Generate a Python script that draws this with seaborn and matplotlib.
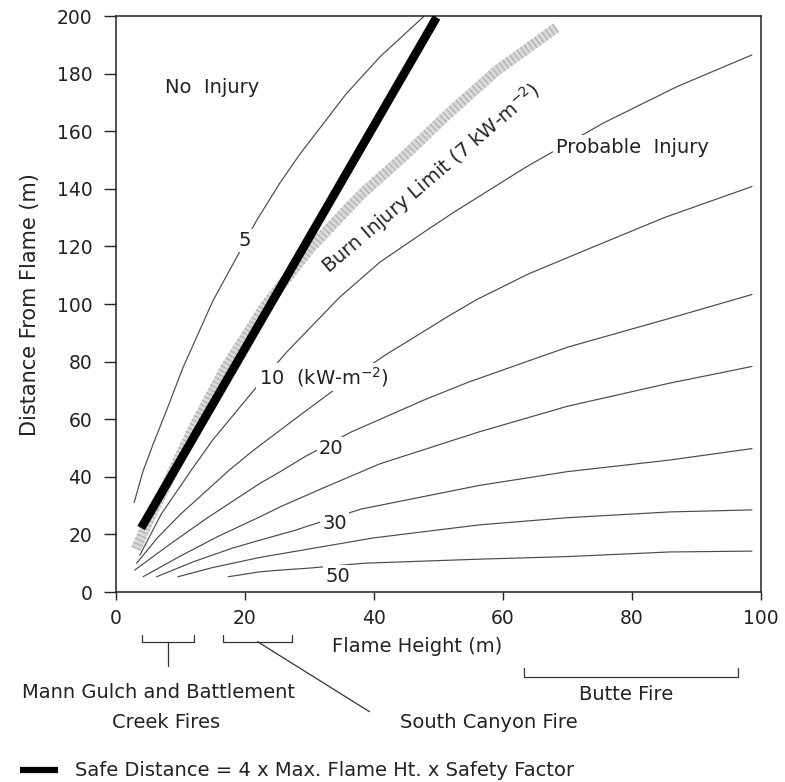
import matplotlib
matplotlib.use("Agg")
import matplotlib.pyplot as plt
import matplotlib.transforms as mtransforms
from matplotlib.lines import Line2D
import seaborn as sns

# ---------------- data ----------------
# heat-flux contours (kW m^-2): flame height (m) vs distance from flame (m)
q5_x = [2.8, 4.2, 5.7, 8.0, 10.4, 15.0, 18.9, 21.8, 25.4, 28.5, 35.7, 41.0, 47.8]
q5_y = [31, 42, 51, 64, 78, 101, 117, 129, 142, 152, 173, 186, 200]

burn7_x = [3.1, 5.5, 8.0, 12.0, 17.0, 23.0, 30.0, 38.0, 45.0, 51.0, 59.0, 68.3]
burn7_y = [15, 27, 38, 57, 78, 99, 119, 138, 152, 165, 181, 196]

q10_x = [3.7, 7.0, 11.7, 15.0, 21.8, 26.5, 34.7, 40.9, 47.5, 52.2, 63.6, 75.7, 87.0, 98.6]
q10_y = [12.8, 27, 42.4, 52.8, 71.2, 83.4, 102.4, 114.5, 124.6, 131.6, 147.6, 163, 175.5, 186.5]

q15_x = [3.2, 6.5, 10.0, 17.6, 21.2, 28.0, 34.2, 41.9, 47.0, 51.7, 55.9, 64.0, 72.9, 85.0, 98.6]
q15_y = [10, 19, 27, 42.4, 49, 60.5, 70.8, 82.5, 89.5, 96, 101.5, 110.5, 118.8, 130, 140.8]

q20_x = [2.9, 8.0, 14.0, 22.3, 25.4, 29.3, 36.5, 48.1, 54.8, 70.0, 85.8, 98.6]
q20_y = [7.6, 16, 25.5, 37.7, 41.7, 47, 55.6, 67, 73, 85, 95, 103.3]

q25_x = [4.2, 10.0, 16.0, 22.3, 25.4, 32.0, 40.9, 56.3, 70.0, 85.8, 98.6]
q25_y = [5.3, 12.5, 19.5, 26.1, 29.5, 36.0, 44.5, 55.6, 64.5, 72.5, 78.3]

q30_x = [6.3, 12.0, 18.0, 22.3, 27.9, 29.6, 38.0, 56.3, 70.0, 85.8, 98.6]
q30_y = [5.3, 10.5, 15.2, 18, 21.5, 22.8, 28.8, 37.0, 41.8, 45.8, 49.8]

q40_x = [9.6, 15.0, 22.3, 25.4, 40.0, 56.3, 70.0, 85.8, 98.6]
q40_y = [5.3, 8.5, 12.0, 13.2, 18.8, 23.3, 25.8, 27.8, 28.5]

q50_x = [17.4, 22.3, 25.4, 30.0, 38.5, 56.3, 70.0, 85.8, 98.6]
q50_y = [5.3, 7.0, 7.6, 8.3, 10.0, 11.4, 12.3, 13.9, 14.2]

# safe distance line (4 x max flame height x safety factor)
safe_x = [3.9, 49.7]
safe_y = [22.2, 199.5]

# contour labels: (text, flame height, distance)
contour_labels = ["5", "10  (kW-m$^{-2}$)", "20", "30", "50"]
contour_label_x = [20.0, 22.1, 33.4, 33.9, 34.4]
contour_label_y = [122, 74.6, 49.9, 23.9, 5.5]

# flame-height ranges of historical fires (m)
fire_names = ["Mann Gulch and Battlement\nCreek Fires", "South Canyon Fire", "Butte Fire"]
fire_lo = [4.1, 16.6, 63.2]
fire_hi = [12.1, 27.3, 96.4]

x_ticks = [0, 20, 40, 60, 80, 100]
y_ticks = [0, 20, 40, 60, 80, 100, 120, 140, 160, 180, 200]

# ---------------- style ----------------
sns.set_theme(style="ticks")
plt.rcParams["font.family"] = ["DejaVu Sans"]
plt.rcParams["mathtext.fontset"] = "dejavusans"
plt.rcParams["axes.edgecolor"] = "#222222"

fig = plt.figure(figsize=(7.85, 7.82), dpi=100)
ax = fig.add_axes([116 / 785, 1 - 592 / 782, 645 / 785, 576 / 782])

thin = dict(color="#4a4a4a", lw=0.85, sort=False, estimator=None)
for xs, ys in [(q5_x, q5_y), (q10_x, q10_y), (q15_x, q15_y), (q20_x, q20_y),
               (q25_x, q25_y), (q30_x, q30_y), (q40_x, q40_y), (q50_x, q50_y)]:
    sns.lineplot(x=xs, y=ys, ax=ax, zorder=2, **thin)

# burn injury limit band (stippled grey)
sns.lineplot(x=burn7_x, y=burn7_y, ax=ax, color="#dadada", lw=7.5,
             sort=False, estimator=None, zorder=3, solid_capstyle="butt")
sns.lineplot(x=burn7_x, y=burn7_y, ax=ax, color="#b0b0b0", lw=7.5,
             sort=False, estimator=None, zorder=3, linestyle=(0, (0.12, 0.3)))

# safe distance line
sns.lineplot(x=safe_x, y=safe_y, ax=ax, color="black", lw=6.2, sort=False,
             estimator=None, zorder=4, solid_capstyle="butt")

ax.set_xlim(0, 100)
ax.set_ylim(0, 200)
ax.set_xticks(x_ticks)
ax.set_yticks(y_ticks)
ax.tick_params(axis="both", direction="out", labelsize=13.5, colors="#222222",
               width=1.0)
ax.tick_params(axis="y", length=9, pad=8)
ax.tick_params(axis="x", length=6, pad=6)
for s in ax.spines.values():
    s.set_visible(True)
    s.set_linewidth(1.1)

ax.set_xlabel("Flame Height (m)", fontsize=14, color="#222222")
ax.xaxis.set_label_coords((417 - 116) / 645, (592 - 647) / 576)
ax.xaxis.label.set_va("center")
ax.set_ylabel("Distance From Flame (m)", fontsize=15, color="#222222")
ax.yaxis.set_label_coords((30 - 116) / 645, (592 - 305) / 576)
ax.yaxis.label.set_va("center")

# contour labels (white box breaks the line)
for t, lx, ly in zip(contour_labels, contour_label_x, contour_label_y):
    ha = "left" if "kW" in t else "center"
    ax.text(lx, ly, t, fontsize=14, ha=ha, va="center", color="#222222", zorder=5,
            bbox=dict(facecolor="white", edgecolor="none", pad=1.5))

ax.text(14.9, 175.3, "No  Injury", fontsize=14, ha="center", va="center",
        color="#222222", zorder=5)
ax.text(80.0, 154.5, "Probable  Injury", fontsize=14, ha="center", va="center",
        color="#222222", zorder=5,
        bbox=dict(facecolor="white", edgecolor="none", pad=2))
ax.text(48.9, 143.5, "Burn Injury Limit (7 kW-m$^{-2}$)", fontsize=14,
        ha="center", va="center", rotation=40.5, rotation_mode="anchor",
        color="#222222", zorder=5)

# fire brackets below the axis
trans = mtransforms.blended_transform_factory(ax.transData, ax.transAxes)
y_top, y_bar = (592 - 635) / 576, (592 - 641.7) / 576
bk = dict(color="#333333", lw=0.9, transform=trans, clip_on=False)
for i in range(2):
    lo, hi = fire_lo[i], fire_hi[i]
    ax.plot([lo, lo, hi, hi], [y_top, y_bar, y_bar, y_top], **bk)
mid0 = (fire_lo[0] + fire_hi[0]) / 2
ax.plot([mid0, mid0], [y_bar, (592 - 666) / 576], **bk)
mid1 = (fire_lo[1] + fire_hi[1]) / 2
ax.plot([mid1, 39.3], [y_bar, (592 - 711.7) / 576], **bk)
yb_top, yb_bar = (592 - 668) / 576, (592 - 677) / 576
ax.plot([fire_lo[2], fire_lo[2], fire_hi[2], fire_hi[2]],
        [yb_top, yb_bar, yb_bar, yb_top], **bk)

txt = dict(fontsize=14, ha="center", va="center", color="#222222")
fig.text(158.5 / 785, 1 - 693 / 782, fire_names[0].split("\n")[0], **txt)
fig.text(166 / 785, 1 - 722 / 782, fire_names[0].split("\n")[1], **txt)
fig.text(489 / 785, 1 - 722 / 782, fire_names[1], **txt)
fig.text(626 / 785, 1 - 695 / 782, fire_names[2], **txt)

# legend for safe-distance line
fig.add_artist(Line2D([20 / 785, 57.5 / 785], [1 - 770 / 782, 1 - 770 / 782],
                      color="black", lw=4.5, solid_capstyle="butt"))
fig.text(75 / 785, 1 - 770 / 782,
         "Safe Distance = 4 x Max. Flame Ht. x Safety Factor",
         fontsize=14, ha="left", va="center", color="#222222")

fig.savefig("out.png", dpi=100)
